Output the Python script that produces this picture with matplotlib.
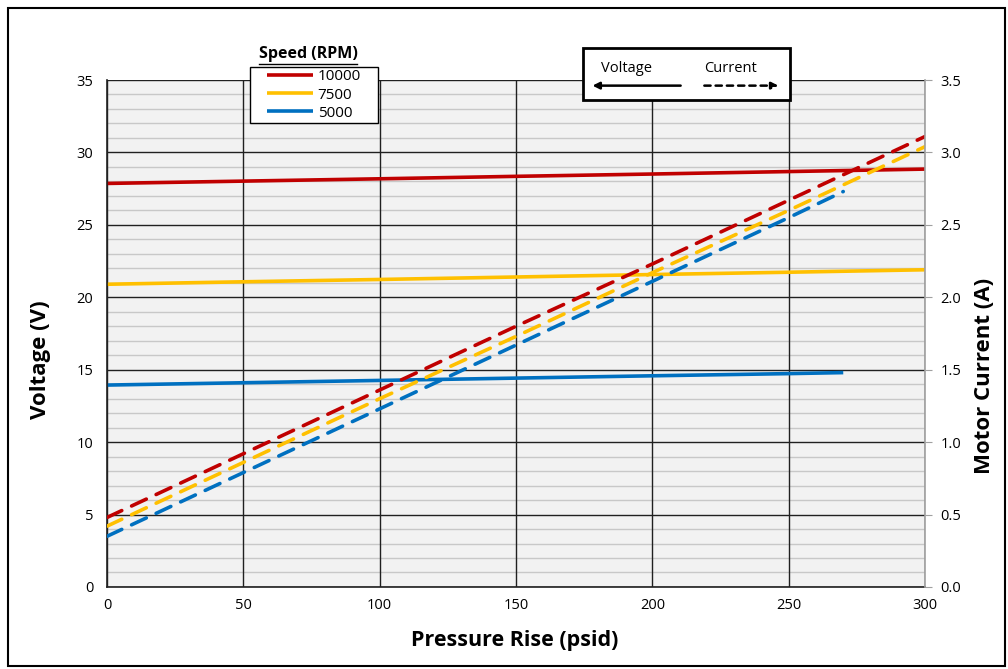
import matplotlib
matplotlib.use("Agg")
import matplotlib.pyplot as plt
from matplotlib.lines import Line2D
from matplotlib.patches import Rectangle

plt.rcParams['font.family'] = ['Open Sans', 'DejaVu Sans']

# давление, psid
pressure = [0, 50, 100, 150, 200, 250, 300]
pressure_5000 = [0, 50, 100, 150, 200, 250, 270]

# напряжение, В
volt_10000 = [27.86, 28.02, 28.18, 28.35, 28.51, 28.68, 28.85]
volt_7500 = [20.90, 21.07, 21.23, 21.40, 21.57, 21.73, 21.90]
volt_5000 = [13.94, 14.10, 14.26, 14.42, 14.58, 14.73, 14.80]

# ток двигателя, А
curr_10000 = [0.48, 0.92, 1.36, 1.80, 2.23, 2.67, 3.11]
curr_7500 = [0.42, 0.86, 1.30, 1.73, 2.17, 2.60, 3.04]
curr_5000 = [0.35, 0.79, 1.23, 1.67, 2.11, 2.55, 2.73]

speeds = ['10000', '7500', '5000']
colors = ['#C00000', '#FFC000', '#0070C0']

fig = plt.figure(figsize=(10.08, 6.69), dpi=100)
ax = fig.add_axes([0.1062, 0.1226, 0.8115, 0.7578])
ax2 = ax.twinx()

ax.set_facecolor('#F2F2F2')
ax.set_xlim(0, 300)
ax.set_ylim(0, 35)
ax2.set_ylim(0, 3.5)

# сетка: мелкая серая через 1 В, крупная черная через 5 В
ax.set_yticks(range(0, 36, 5))
ax.set_yticks(range(0, 36, 1), minor=True)
ax.set_xticks(range(0, 301, 50))
ax.grid(which='minor', axis='y', color='#C8C8C8', linewidth=1.0)
ax.grid(which='major', axis='both', color='#202020', linewidth=1.0)
ax.set_axisbelow(True)
# вертикальные линии сетки поверх горизонтальных
ax.yaxis.set_zorder(0.4)
ax.xaxis.set_zorder(0.6)
ax.tick_params(which='both', length=0, labelsize=10.5, pad=10)
ax.tick_params(axis='x', pad=8)

ax2.set_yticks([i * 0.5 for i in range(8)])
ax2.set_yticklabels(['%.1f' % (i * 0.5) for i in range(8)])
ax2.tick_params(axis='y', length=5, color='#A0A0A0', labelsize=10.5, pad=6)

for sp in ['left', 'bottom']:
    ax.spines[sp].set_color('#202020')
    ax.spines[sp].set_linewidth(1.2)
ax.spines['top'].set_visible(False)
ax.spines['right'].set_visible(False)
ax2.spines['top'].set_visible(False)
ax2.spines['left'].set_visible(False)
ax2.spines['bottom'].set_visible(False)
ax2.spines['right'].set_color('#A0A0A0')
ax2.spines['right'].set_linewidth(1.2)

volts = [volt_10000, volt_7500, volt_5000]
currs = [curr_10000, curr_7500, curr_5000]
xs = [pressure, pressure, pressure_5000]

handles = []
for v, c, x, col, s in zip(volts, currs, xs, colors, speeds):
    h, = ax.plot(x, v, color=col, linewidth=2.6, solid_capstyle='butt', label=s)
    ax2.plot(x, c, color=col, linewidth=2.6, dashes=(4.5, 3), dash_capstyle='round')
    handles.append(h)

# подписи осей
fig.text(0.511, 0.043, 'Pressure Rise (psid)', fontsize=15.5, fontweight='bold',
         ha='center', va='center')
fig.text(0.0397, 0.462, 'Voltage (V)', fontsize=16, fontweight='bold',
         ha='center', va='center', rotation=90)
fig.text(0.977, 0.438, 'Motor Current (A)', fontsize=16, fontweight='bold',
         ha='center', va='center', rotation=90)

# легенда скоростей: своя рамка, чтобы отступы были как в оригинале
box_x, box_y, box_w, box_h = 0.248, 0.8161, 0.127, 0.0837
fig.add_artist(Rectangle((box_x, box_y), box_w, box_h, transform=fig.transFigure,
                         facecolor='white', edgecolor='black', linewidth=1.0, zorder=5))
leg = fig.legend(handles=handles, loc='center',
                 bbox_to_anchor=(box_x + box_w / 2, box_y + box_h / 2),
                 borderaxespad=0, frameon=False, fontsize=11,
                 handlelength=3.0, handletextpad=0.3, labelspacing=0.2,
                 borderpad=0)
leg.set_zorder(6)

t = fig.text(0.3055, 0.914, 'Speed (RPM)', fontsize=11.5, fontweight='bold',
             ha='center', va='baseline')
fig.canvas.draw()
bb = t.get_window_extent().transformed(fig.transFigure.inverted())
fig.add_artist(Line2D([bb.x0, bb.x1], [bb.y0 - 0.003, bb.y0 - 0.003],
                      transform=fig.transFigure, color='black', linewidth=1.0))

# легенда Voltage / Current
fig.add_artist(Rectangle((0.5784, 0.8505), 0.2054, 0.0777, transform=fig.transFigure,
                         facecolor='white', edgecolor='black', linewidth=2.0))
fig.text(0.622, 0.893, 'Voltage', fontsize=10.5, ha='center', va='baseline')
fig.text(0.725, 0.893, 'Current', fontsize=10.5, ha='center', va='baseline')
fig.add_artist(plt.annotate('', xy=(0.585, 0.872), xytext=(0.678, 0.872),
                            xycoords='figure fraction',
                            arrowprops=dict(arrowstyle='-|>', color='black', lw=1.8,
                                            mutation_scale=10)))
fig.add_artist(plt.annotate('', xy=(0.775, 0.872), xytext=(0.696, 0.872),
                            xycoords='figure fraction',
                            arrowprops=dict(arrowstyle='-|>', color='black', lw=1.8,
                                            linestyle=(0, (2.5, 2)), mutation_scale=10)))

# рамка вокруг всего рисунка
fig.add_artist(Rectangle((0.008, 0.005), 0.989, 0.983, transform=fig.transFigure,
                         facecolor='none', edgecolor='black', linewidth=1.5))

fig.savefig('out.png', dpi=100)
